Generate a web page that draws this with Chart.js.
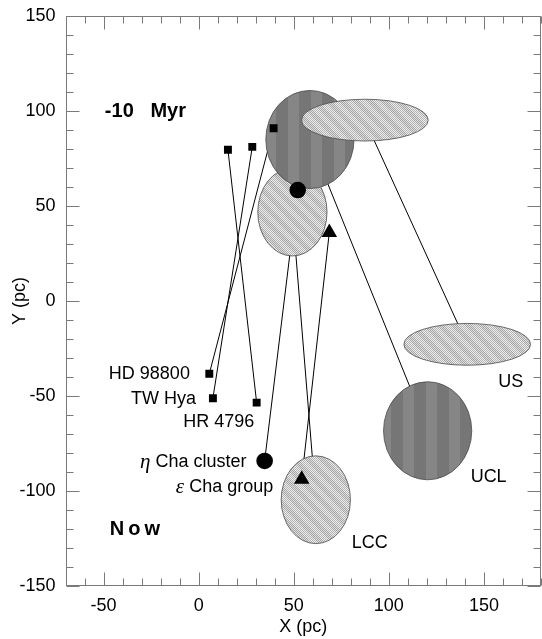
<!DOCTYPE html>
<html>
<head>
<meta charset="utf-8">
<script src="https://cdn.jsdelivr.net/npm/chart.js@4.4.1/dist/chart.umd.min.js"></script>
<style>
  body { margin: 0; background: #fff; }
</style>
</head>
<body>
<canvas id="motion" width="542" height="639"></canvas>
<script>
"use strict";

// OB subgroups: ellipse centres now and 10 Myr ago, semi-axes (pc)
var groupNames = ['US', 'UCL', 'LCC'];
var groupXNow = [141.2, 120.4, 61.6];
var groupYNow = [-22.8, -68.3, -104.6];
var groupXPast = [87.4, 58.5, 49.3];
var groupYPast = [95.2, 85.0, 46.8];
var groupRx = [33.3, 23.2, 18.2];
var groupRy = [11.0, 25.8, 23.1];
var groupFill = ['hatch', 'stripe', 'hatch'];

// TW Hya association members
var starNames = ['HD 98800', 'TW Hya', 'HR 4796'];
var starXNow = [5.6, 7.5, 30.5];
var starYNow = [-38.3, -51.2, -53.5];
var starXPast = [39.4, 28.2, 15.4];
var starYPast = [90.9, 81.1, 79.6];

// eta Cha cluster (circle) and epsilon Cha group (triangle)
var clusterNames = ['η Cha cluster', 'ε Cha group'];
var clusterXNow = [34.7, 54.2];
var clusterYNow = [-84.2, -93.8];
var clusterXPast = [52.1, 68.7];
var clusterYPast = [58.4, 36.1];

var xTicks = [-50, 0, 50, 100, 150];
var yTicks = [-150, -100, -50, 0, 50, 100, 150];

// annotations, in pc
var labelText = ['-10   Myr', 'Now', 'HD 98800', 'TW Hya', 'HR 4796', 'η Cha cluster', 'ε Cha group', 'US', 'UCL', 'LCC'];
var labelX = [-49.3, -46.7, -4.6, -1.4, 29.2, 25.2, 39.2, 157.5, 143, 80.5];
var labelY = [99.7, -120.5, -38.4, -51.6, -63.5, -84.6, -97.7, -42.5, -92.5, -127.2];
var labelAlign = ['left', 'left', 'right', 'right', 'right', 'right', 'right', 'left', 'left', 'left'];
var labelBold = [true, true, false, false, false, false, false, false, false, false];

var FONT = '"Liberation Sans", Arial, Helvetica, sans-serif';

function points(xs, ys) {
    var out = [];
    for (var i = 0; i < xs.length; i++) out.push({x: xs[i], y: ys[i]});
    return out;
}

function track(x0, y0, x1, y1) {
    return {
        data: [{x: x0, y: y0}, {x: x1, y: y1}],
        showLine: true,
        borderColor: '#000',
        borderWidth: 1,
        pointRadius: 0,
        order: 2
    };
}

function marker(xs, ys, style, radius) {
    return {
        data: points(xs, ys),
        pointStyle: style,
        pointRadius: radius,
        backgroundColor: '#000',
        borderColor: '#000',
        borderWidth: 0,
        order: 1
    };
}

var datasets = [];
for (var i = 0; i < groupNames.length; i++) {
    datasets.push(track(groupXPast[i], groupYPast[i], groupXNow[i], groupYNow[i]));
}
for (i = 0; i < starNames.length; i++) {
    datasets.push(track(starXPast[i], starYPast[i], starXNow[i], starYNow[i]));
}
for (i = 0; i < clusterNames.length; i++) {
    datasets.push(track(clusterXPast[i], clusterYPast[i], clusterXNow[i], clusterYNow[i]));
}
// the ellipses go on top of the tracks, drawn right after the last track
datasets[0].regionsAbove = true;

datasets.push(marker(starXPast, starYPast, 'rect', 5.6));
datasets.push(marker(starXNow, starYNow, 'rect', 5.6));
datasets.push(marker([clusterXPast[0]], [clusterYPast[0]], 'circle', 8.3));
datasets.push(marker([clusterXNow[0]], [clusterYNow[0]], 'circle', 8.3));
datasets.push(marker([clusterXPast[1]], [clusterYPast[1]], 'triangle', 9));
datasets.push(marker([clusterXNow[1]], [clusterYNow[1]], 'triangle', 9));

// fill patterns for the subgroup ellipses
function hatchPattern(ctx) {
    var n = 14;
    var c = document.createElement('canvas');
    c.width = n; c.height = n;
    var g = c.getContext('2d');
    var img = g.createImageData(n, n);
    for (var y = 0; y < n; y++) {
        for (var x = 0; x < n; x++) {
            // fine checkerboard dither with soft diagonal bands
            var band = Math.floor(((x - y + n) % n) / (n / 2));
            var dark = ((x + y) % 2 === 0);
            var v;
            if (band === 0) v = dark ? 165 : 222;
            else v = dark ? 180 : 236;
            var k = (y * n + x) * 4;
            img.data[k] = img.data[k + 1] = img.data[k + 2] = v;
            img.data[k + 3] = 255;
        }
    }
    g.putImageData(img, 0, 0);
    return ctx.createPattern(c, 'repeat');
}

function stripePattern(ctx) {
    var c = document.createElement('canvas');
    c.width = 23; c.height = 1;
    var g = c.getContext('2d');
    g.fillStyle = '#767676';
    g.fillRect(0, 0, 12, 1);
    g.fillStyle = '#868686';
    g.fillRect(12, 0, 11, 1);
    return ctx.createPattern(c, 'repeat');
}

var regionsPlugin = {
    id: 'regions',
    afterDatasetDraw: function (chart, args) {
        if (!chart.data.datasets[args.index].regionsAbove) return;
        var ctx = chart.ctx;
        var xs = chart.scales.x, ys = chart.scales.y;
        var fills = {hatch: hatchPattern(ctx), stripe: stripePattern(ctx)};
        // LCC first, then UCL, then US on top
        var sequence = [2, 1, 0];
        var epochs = [[groupXPast, groupYPast], [groupXNow, groupYNow]];
        ctx.save();
        for (var e = 0; e < epochs.length; e++) {
            for (var s = 0; s < sequence.length; s++) {
                var i = sequence[s];
                var cx = xs.getPixelForValue(epochs[e][0][i]);
                var cy = ys.getPixelForValue(epochs[e][1][i]);
                var rx = Math.abs(xs.getPixelForValue(epochs[e][0][i] + groupRx[i]) - cx);
                var ry = Math.abs(ys.getPixelForValue(epochs[e][1][i] + groupRy[i]) - cy);
                ctx.beginPath();
                ctx.ellipse(cx, cy, rx, ry, 0, 0, 2 * Math.PI);
                ctx.fillStyle = fills[groupFill[i]];
                ctx.fill();
                ctx.lineWidth = 0.8;
                ctx.strokeStyle = '#4a4a4a';
                ctx.stroke();
            }
        }
        ctx.restore();
    }
};

// box with inward ticks on all four sides, plus text annotations
var framePlugin = {
    id: 'frame',
    afterDatasetsDraw: function (chart) {
        var ctx = chart.ctx;
        var a = chart.chartArea;
        var xs = chart.scales.x, ys = chart.scales.y;
        ctx.save();
        ctx.strokeStyle = '#7a7a7a';
        ctx.lineWidth = 1;
        var L = Math.round(a.left) + 0.5, R = Math.round(a.right) - 0.5;
        var T = Math.round(a.top) + 0.5, B = Math.round(a.bottom) - 0.5;
        ctx.strokeRect(L, T, R - L, B - T);
        ctx.beginPath();
        var v, p, len;
        for (v = -70; v <= 180; v += 10) {
            p = Math.round(xs.getPixelForValue(v)) + 0.5;
            len = (v % 50 === 0) ? 13 : 7;
            ctx.moveTo(p, B); ctx.lineTo(p, B - len);
            ctx.moveTo(p, T); ctx.lineTo(p, T + len);
        }
        for (v = -150; v <= 150; v += 10) {
            p = Math.round(ys.getPixelForValue(v)) + 0.5;
            len = (v % 50 === 0) ? 13 : 7;
            ctx.moveTo(L, p); ctx.lineTo(L + len, p);
            ctx.moveTo(R, p); ctx.lineTo(R - len, p);
        }
        ctx.stroke();

        ctx.fillStyle = '#000';
        ctx.textBaseline = 'middle';
        for (var i = 0; i < labelText.length; i++) {
            var tx = xs.getPixelForValue(labelX[i]);
            var ty = ys.getPixelForValue(labelY[i]);
            var text = labelText[i];
            if (labelBold[i]) {
                ctx.font = 'bold 20px ' + FONT;
                ctx.letterSpacing = text === 'Now' ? '4px' : '0px';
                ctx.textAlign = labelAlign[i];
                ctx.fillText(text, tx, ty);
                ctx.letterSpacing = '0px';
            } else if (text.charAt(0) === 'η' || text.charAt(0) === 'ε') {
                // Greek symbol in italic serif, rest in sans
                var rest = text.slice(1);
                ctx.font = '18px ' + FONT;
                ctx.textAlign = 'right';
                ctx.fillText(rest, tx, ty);
                var w = ctx.measureText(rest).width;
                ctx.font = 'italic 21px "Liberation Serif", "Times New Roman", serif';
                ctx.fillText(text.charAt(0), tx - w, ty + 1);
            } else {
                ctx.font = '18px ' + FONT;
                ctx.textAlign = labelAlign[i];
                ctx.fillText(text, tx, ty);
            }
        }
        ctx.restore();
    }
};

var tickFont = {family: FONT, size: 18};

var motionChart = new Chart(document.getElementById('motion'), {
    type: 'scatter',
    data: {datasets: datasets},
    plugins: [regionsPlugin, framePlugin],
    options: {
        responsive: false,
        animation: false,
        events: [],
        // big markers would otherwise push the plot box inwards
        layout: {autoPadding: false, padding: {top: 16, right: 1, left: 0, bottom: 0}},
        plugins: {legend: {display: false}, tooltip: {enabled: false}},
        scales: {
            x: {
                type: 'linear',
                min: -70,
                max: 180,
                grid: {display: false, drawTicks: false},
                border: {display: false},
                afterBuildTicks: function (scale) {
                    scale.ticks = xTicks.map(function (t) { return {value: t}; });
                },
                afterFit: function (scale) {
                    scale.height = 53;
                    scale.paddingLeft = 0;
                    scale.paddingRight = 0;
                },
                ticks: {color: '#000', font: tickFont, padding: 9, maxRotation: 0},
                title: {display: true, text: 'X (pc)', color: '#000', font: tickFont, padding: {top: 0, bottom: 1}}
            },
            y: {
                type: 'linear',
                min: -150,
                max: 150,
                grid: {display: false, drawTicks: false},
                border: {display: false},
                afterBuildTicks: function (scale) {
                    scale.ticks = yTicks.map(function (t) { return {value: t}; });
                },
                afterFit: function (scale) {
                    scale.width = 65.5;
                    scale.paddingTop = 0;
                    scale.paddingBottom = 0;
                },
                ticks: {color: '#000', font: tickFont, padding: 10},
                title: {display: true, text: 'Y (pc)', color: '#000', font: tickFont, padding: {top: 9, bottom: 0}}
            }
        }
    }
});
</script>
</body>
</html>
